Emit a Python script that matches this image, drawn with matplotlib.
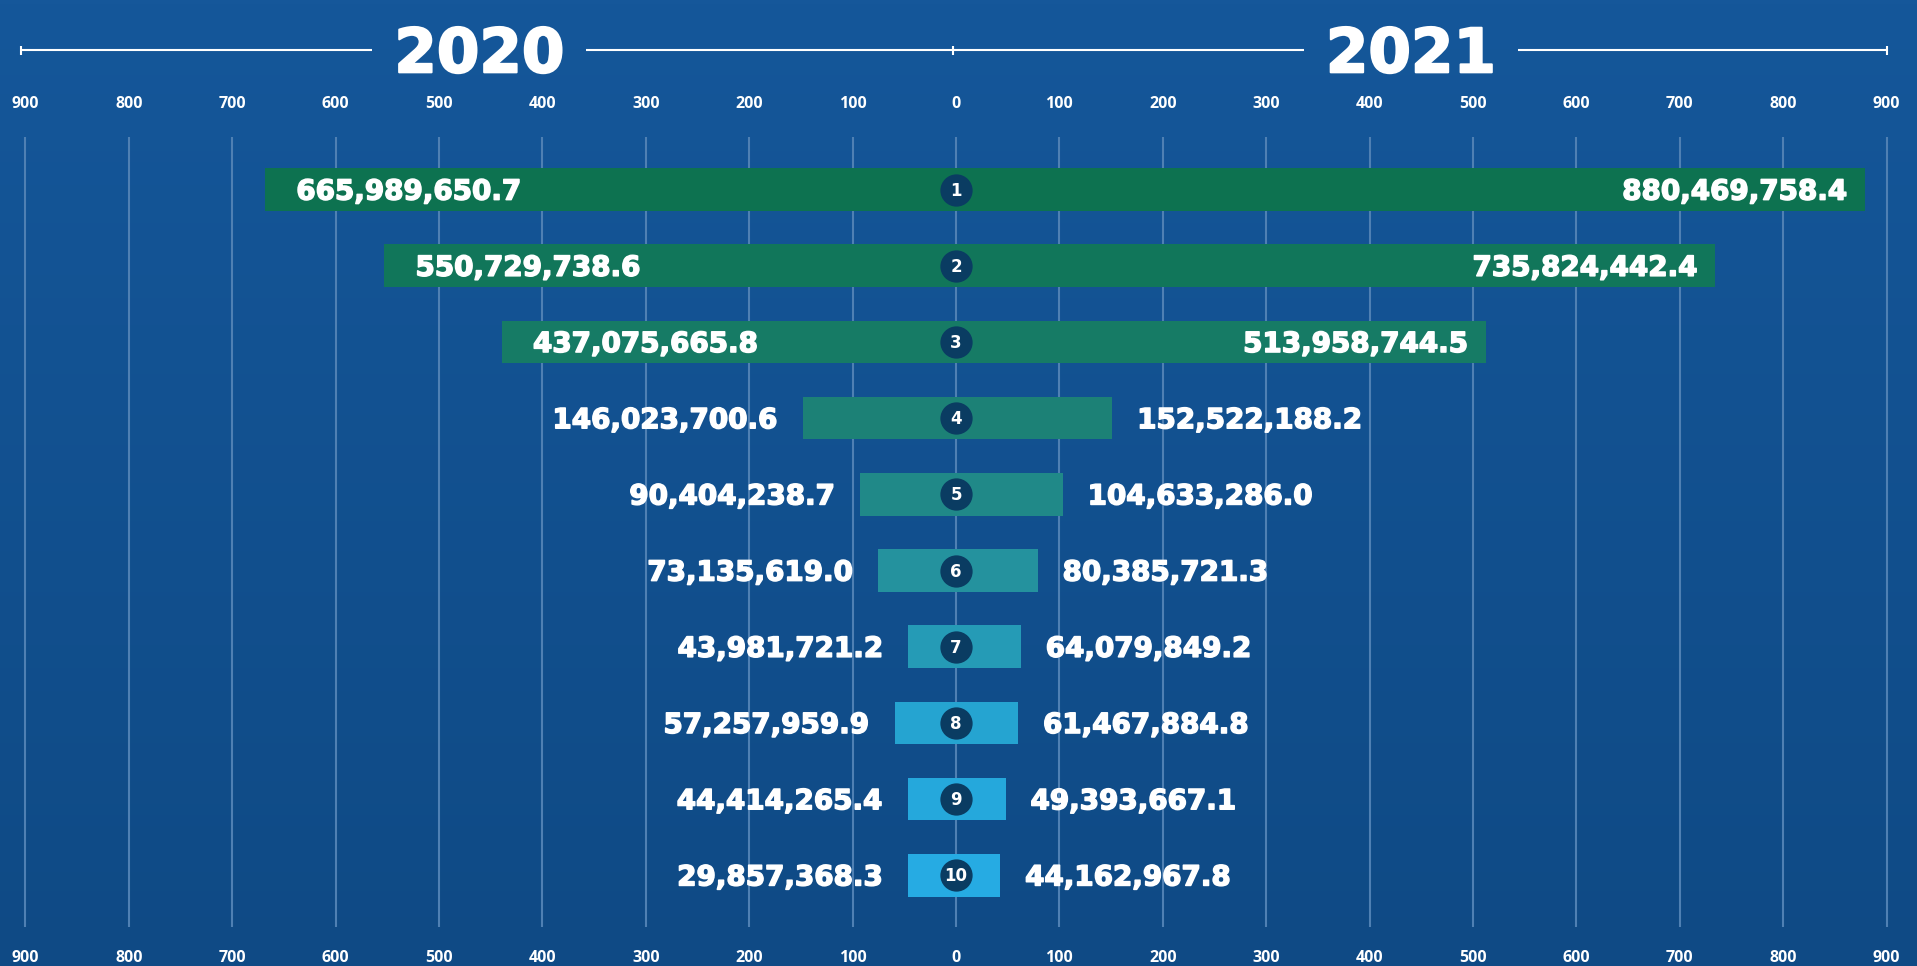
import numpy as np
import matplotlib.pyplot as plt
import matplotlib.patheffects as pe
from matplotlib.colors import LinearSegmentedColormap

# data (values as shown on the chart)
ranks = [1, 2, 3, 4, 5, 6, 7, 8, 9, 10]
val_2020 = [665989650.7, 550729738.6, 437075665.8, 146023700.6, 90404238.7,
            73135619.0, 43981721.2, 57257959.9, 44414265.4, 29857368.3]
val_2021 = [880469758.4, 735824442.4, 513958744.5, 152522188.2, 104633286.0,
            80385721.3, 64079849.2, 61467884.8, 49393667.1, 44162967.8]
tick_vals = np.arange(-900, 901, 100)
years = ['2020', '2021']

# layout in pixels of the 1917x966 canvas
W_PX, H_PX = 1917, 966
X0_PX = 956.0       # pixel column of zero
SCALE = 1.034       # pixels per million
ROW0_PX = 189.5     # pixel row of first bar centre
ROW_PX = 76.2       # pixels between bars
BAR_H = 42.6 / ROW_PX
MIN_HALF = 44       # bars are never thinner than the badge

def py(px):
    return (px - ROW0_PX) / ROW_PX

fig = plt.figure(figsize=(W_PX / 100, H_PX / 100), dpi=100)

# background gradient
bg = fig.add_axes([0, 0, 1, 1])
bg.axis('off')
bg_cmap = LinearSegmentedColormap.from_list('bg', ['#15579a', '#0f4a85'])
bg.imshow(np.linspace(0, 1, 256).reshape(-1, 1), aspect='auto', cmap=bg_cmap,
          extent=[0, 1, 0, 1])

ax = fig.add_axes([0, 0, 1, 1])
ax.patch.set_alpha(0)
ax.axis('off')
ax.set_xlim(-X0_PX / SCALE, (W_PX - X0_PX) / SCALE)
ax.set_ylim(py(H_PX), py(0))

# grid
ax.vlines(tick_vals, py(137), py(927), color='#4f80b3', lw=1.5, zorder=0)
for t in tick_vals:
    for ypx in (104, 958):
        ax.text(t, py(ypx), str(abs(t)), ha='center', va='center', color='white',
                fontsize=11.5, fontweight='bold', family='Open Sans')

# bars
rows = np.arange(len(ranks))
left = np.maximum(np.array(val_2020) / 1e6, MIN_HALF)
right = np.maximum(np.array(val_2021) / 1e6, MIN_HALF)
bar_cmap = LinearSegmentedColormap.from_list(
    'bars', ['#0d7250', '#157a62', '#1f8580', '#2596a6', '#25a6d6', '#26abe3'])
colors = bar_cmap(np.linspace(0, 1, len(ranks)))
ax.barh(rows, -left - 2, left=0, height=BAR_H, color=colors, zorder=2)
ax.barh(rows, right - 1.5, left=0, height=BAR_H, color=colors, zorder=2)

heavy = [pe.withStroke(linewidth=1.1, foreground='white')]

def label(x, y, s, ha, dx_px, fs=20):
    ax.annotate(s, (x, y), xytext=(dx_px * 0.72, -0.365 * fs),
                textcoords='offset points', ha=ha, va='baseline', color='white',
                fontsize=fs, fontweight='bold', family='DejaVu Sans', zorder=4,
                path_effects=heavy)

for r, a, b, la, lb in zip(rows, val_2020, val_2021, left, right):
    if a / 1e6 > 300:
        label(-la - 2, r, f'{a:,.1f}', 'left', 31)
    else:
        label(-la - 2, r, f'{a:,.1f}', 'right', -25)
    if b / 1e6 > 300:
        label(lb - 1.5, r, f'{b:,.1f}', 'right', -17)
    else:
        label(lb - 1.5, r, f'{b:,.1f}', 'left', 25)

# rank badges
ax.scatter(np.zeros(len(ranks)), rows, s=540, color='#0a3c62', zorder=3,
           linewidths=0)
for r, k in zip(rows, ranks):
    ax.annotate(str(k), (0, r), xytext=(0, -0.365 * 12), textcoords='offset points',
                ha='center', va='baseline', color='white', fontsize=12,
                fontweight='bold', zorder=4)

# header: year titles on a line with gaps
y_line = py(50)
title_x = [-461, 440]
titles = []
for x, yr in zip(title_x, years):
    titles.append(ax.annotate(yr, (x, y_line), xytext=(0, -0.365 * 44),
                              textcoords='offset points', ha='center', va='baseline',
                              color='white', fontsize=44, fontweight='bold',
                              path_effects=[pe.withStroke(linewidth=1.5,
                                                          foreground='white')]))
fig.canvas.draw()
inv = ax.transData.inverted()
gaps = []
for t in titles:
    bb = t.get_window_extent()
    x_a = inv.transform((bb.x0 - 22, 0))[0]
    x_b = inv.transform((bb.x1 + 22, 0))[0]
    gaps.append((x_a, x_b))
line_l, line_c, line_r = -904, -3, 900
segs = [(line_l, gaps[0][0]), (gaps[0][1], gaps[1][0]), (gaps[1][1], line_r)]
for a, b in segs:
    ax.plot([a, b], [y_line, y_line], color='white', lw=1.5, solid_capstyle='butt')
ax.vlines([line_l, line_c, line_r], y_line - 4.5 / ROW_PX, y_line + 4.5 / ROW_PX,
          color='white', lw=1.5)

fig.savefig('out.png', dpi=100)
